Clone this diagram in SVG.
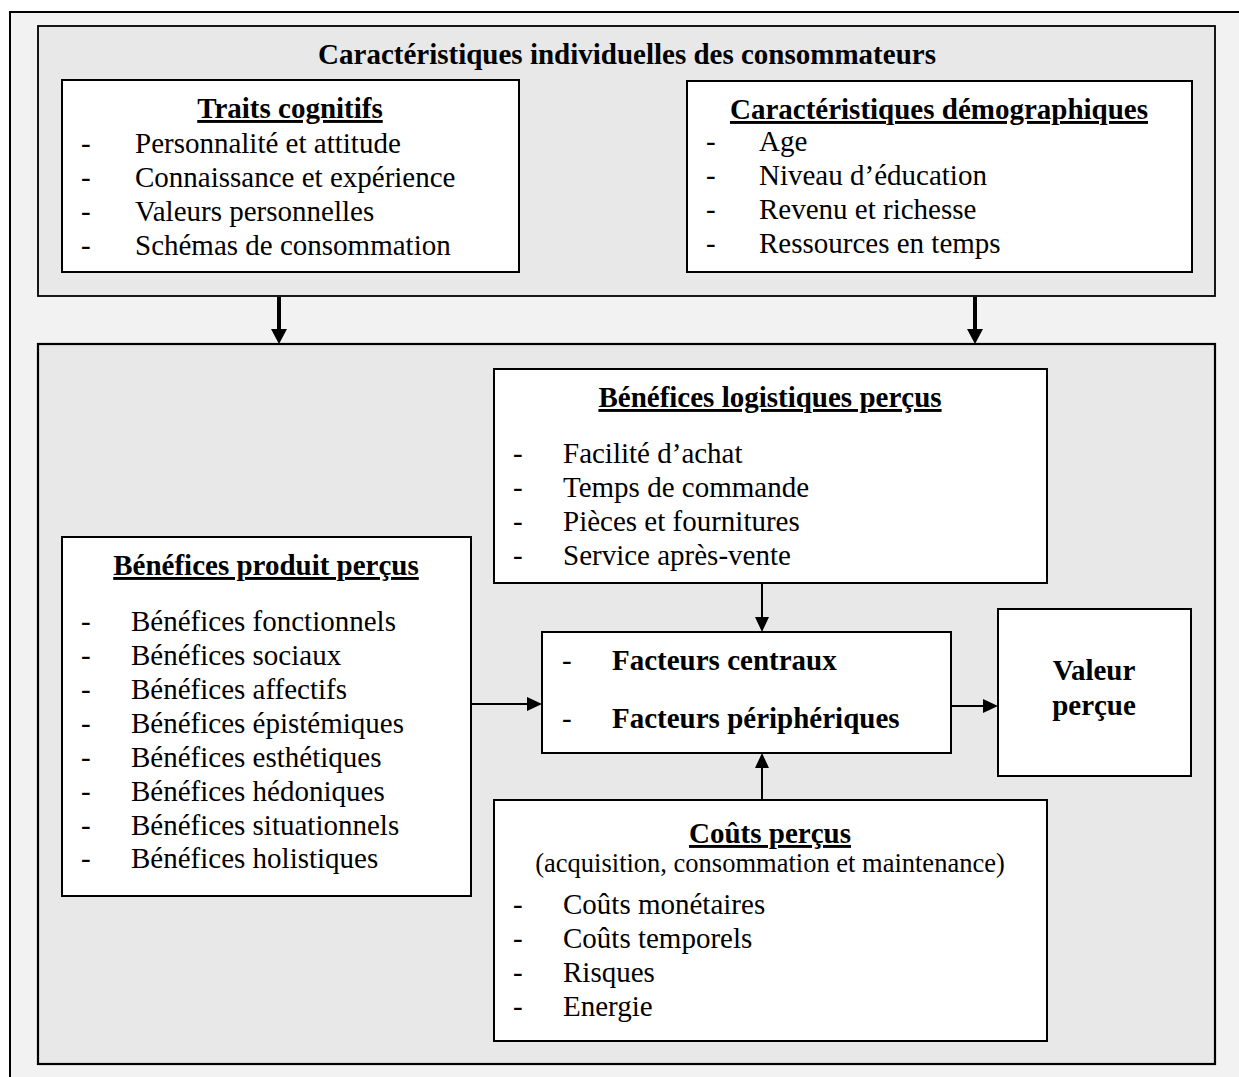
<svg xmlns="http://www.w3.org/2000/svg" width="1239" height="1077" viewBox="0 0 1239 1077">
<defs>
<style>
text{font-family:"Liberation Serif","Times New Roman",serif;font-size:29px;fill:#000}
.b{font-weight:bold}
.u{text-decoration:underline}
.c{text-anchor:middle}
.sub{font-size:26.5px}
.box{fill:#fff;stroke:#000;stroke-width:2}
.conn{stroke:#000;stroke-width:2;fill:none}
.thick{stroke:#000;stroke-width:4;fill:none}
</style>
</defs>
<rect x="0" y="0" width="1239" height="1077" fill="#fff"/>
<rect x="10" y="12" width="1300" height="1200" fill="#f2f2f2" stroke="#000" stroke-width="2"/>
<g id="top-section">
<rect x="38" y="26" width="1177" height="270" fill="#e8e8e8" stroke="#000" stroke-width="1.8"/>
<text class="b c" x="627" y="64">Caractéristiques individuelles des consommateurs</text>
</g>
<g id="bottom-section">
<rect x="38" y="344" width="1177" height="720" fill="#e8e8e8" stroke="#000" stroke-width="2.2"/>
</g>
<g id="traits-cognitifs">
<rect class="box" x="62" y="80" width="457" height="192"/>
<text class="b u c" x="290" y="118">Traits cognitifs</text>
<text x="81" y="153">-</text><text x="135" y="153">Personnalité et attitude</text>
<text x="81" y="187">-</text><text x="135" y="187">Connaissance et expérience</text>
<text x="81" y="221">-</text><text x="135" y="221">Valeurs personnelles</text>
<text x="81" y="255">-</text><text x="135" y="255">Schémas de consommation</text>
</g>
<g id="caracteristiques-demographiques">
<rect class="box" x="687" y="81" width="505" height="191"/>
<text class="b u c" x="939" y="119">Caractéristiques démographiques</text>
<text x="706" y="151">-</text><text x="759" y="151">Age</text>
<text x="706" y="185">-</text><text x="759" y="185">Niveau d’éducation</text>
<text x="706" y="219">-</text><text x="759" y="219">Revenu et richesse</text>
<text x="706" y="253">-</text><text x="759" y="253">Ressources en temps</text>
</g>
<g id="benefices-logistiques">
<rect class="box" x="494" y="369" width="553" height="214"/>
<text class="b u c" x="770" y="407">Bénéfices logistiques perçus</text>
<text x="513" y="463">-</text><text x="563" y="463">Facilité d’achat</text>
<text x="513" y="497">-</text><text x="563" y="497">Temps de commande</text>
<text x="513" y="531">-</text><text x="563" y="531">Pièces et fournitures</text>
<text x="513" y="565">-</text><text x="563" y="565">Service après-vente</text>
</g>
<g id="benefices-produit">
<rect class="box" x="62" y="537" width="409" height="359"/>
<text class="b u c" x="266" y="575">Bénéfices produit perçus</text>
<text x="81" y="631">-</text><text x="131" y="631">Bénéfices fonctionnels</text>
<text x="81" y="665">-</text><text x="131" y="665">Bénéfices sociaux</text>
<text x="81" y="699">-</text><text x="131" y="699">Bénéfices affectifs</text>
<text x="81" y="733">-</text><text x="131" y="733">Bénéfices épistémiques</text>
<text x="81" y="767">-</text><text x="131" y="767">Bénéfices esthétiques</text>
<text x="81" y="801">-</text><text x="131" y="801">Bénéfices hédoniques</text>
<text x="81" y="835">-</text><text x="131" y="835">Bénéfices situationnels</text>
<text x="81" y="868">-</text><text x="131" y="868">Bénéfices holistiques</text>
</g>
<g id="facteurs">
<rect class="box" x="542" y="632" width="409" height="121"/>
<text x="562" y="670">-</text><text class="b" x="612" y="670">Facteurs centraux</text>
<text x="562" y="728">-</text><text class="b" x="612" y="728">Facteurs périphériques</text>
</g>
<g id="valeur-percue">
<rect class="box" x="998" y="609" width="193" height="167"/>
<text class="b c" x="1094" y="680">Valeur</text>
<text class="b c" x="1094" y="715">perçue</text>
</g>
<g id="couts-percus">
<rect class="box" x="494" y="800" width="553" height="241"/>
<text class="b u c" x="770" y="843">Coûts perçus</text>
<text class="sub c" x="770" y="872">(acquisition, consommation et maintenance)</text>
<text x="513" y="914">-</text><text x="563" y="914">Coûts monétaires</text>
<text x="513" y="948">-</text><text x="563" y="948">Coûts temporels</text>
<text x="513" y="982">-</text><text x="563" y="982">Risques</text>
<text x="513" y="1016">-</text><text x="563" y="1016">Energie</text>
</g>
<g id="connectors">
<line class="thick" x1="279" y1="297" x2="279" y2="330"/>
<polygon points="271,329 287,329 279,344" fill="#000"/>
<line class="thick" x1="975" y1="297" x2="975" y2="330"/>
<polygon points="967,329 983,329 975,344" fill="#000"/>
<line class="conn" x1="762" y1="584" x2="762" y2="619"/>
<polygon points="755,617 769,617 762,632" fill="#000"/>
<line class="conn" x1="762" y1="799" x2="762" y2="766"/>
<polygon points="755,768 769,768 762,753" fill="#000"/>
<line class="conn" x1="472" y1="704" x2="529" y2="704"/>
<polygon points="527,697 527,711 542,704" fill="#000"/>
<line class="conn" x1="952" y1="706" x2="985" y2="706"/>
<polygon points="983,699 983,713 998,706" fill="#000"/>
</g>
</svg>
